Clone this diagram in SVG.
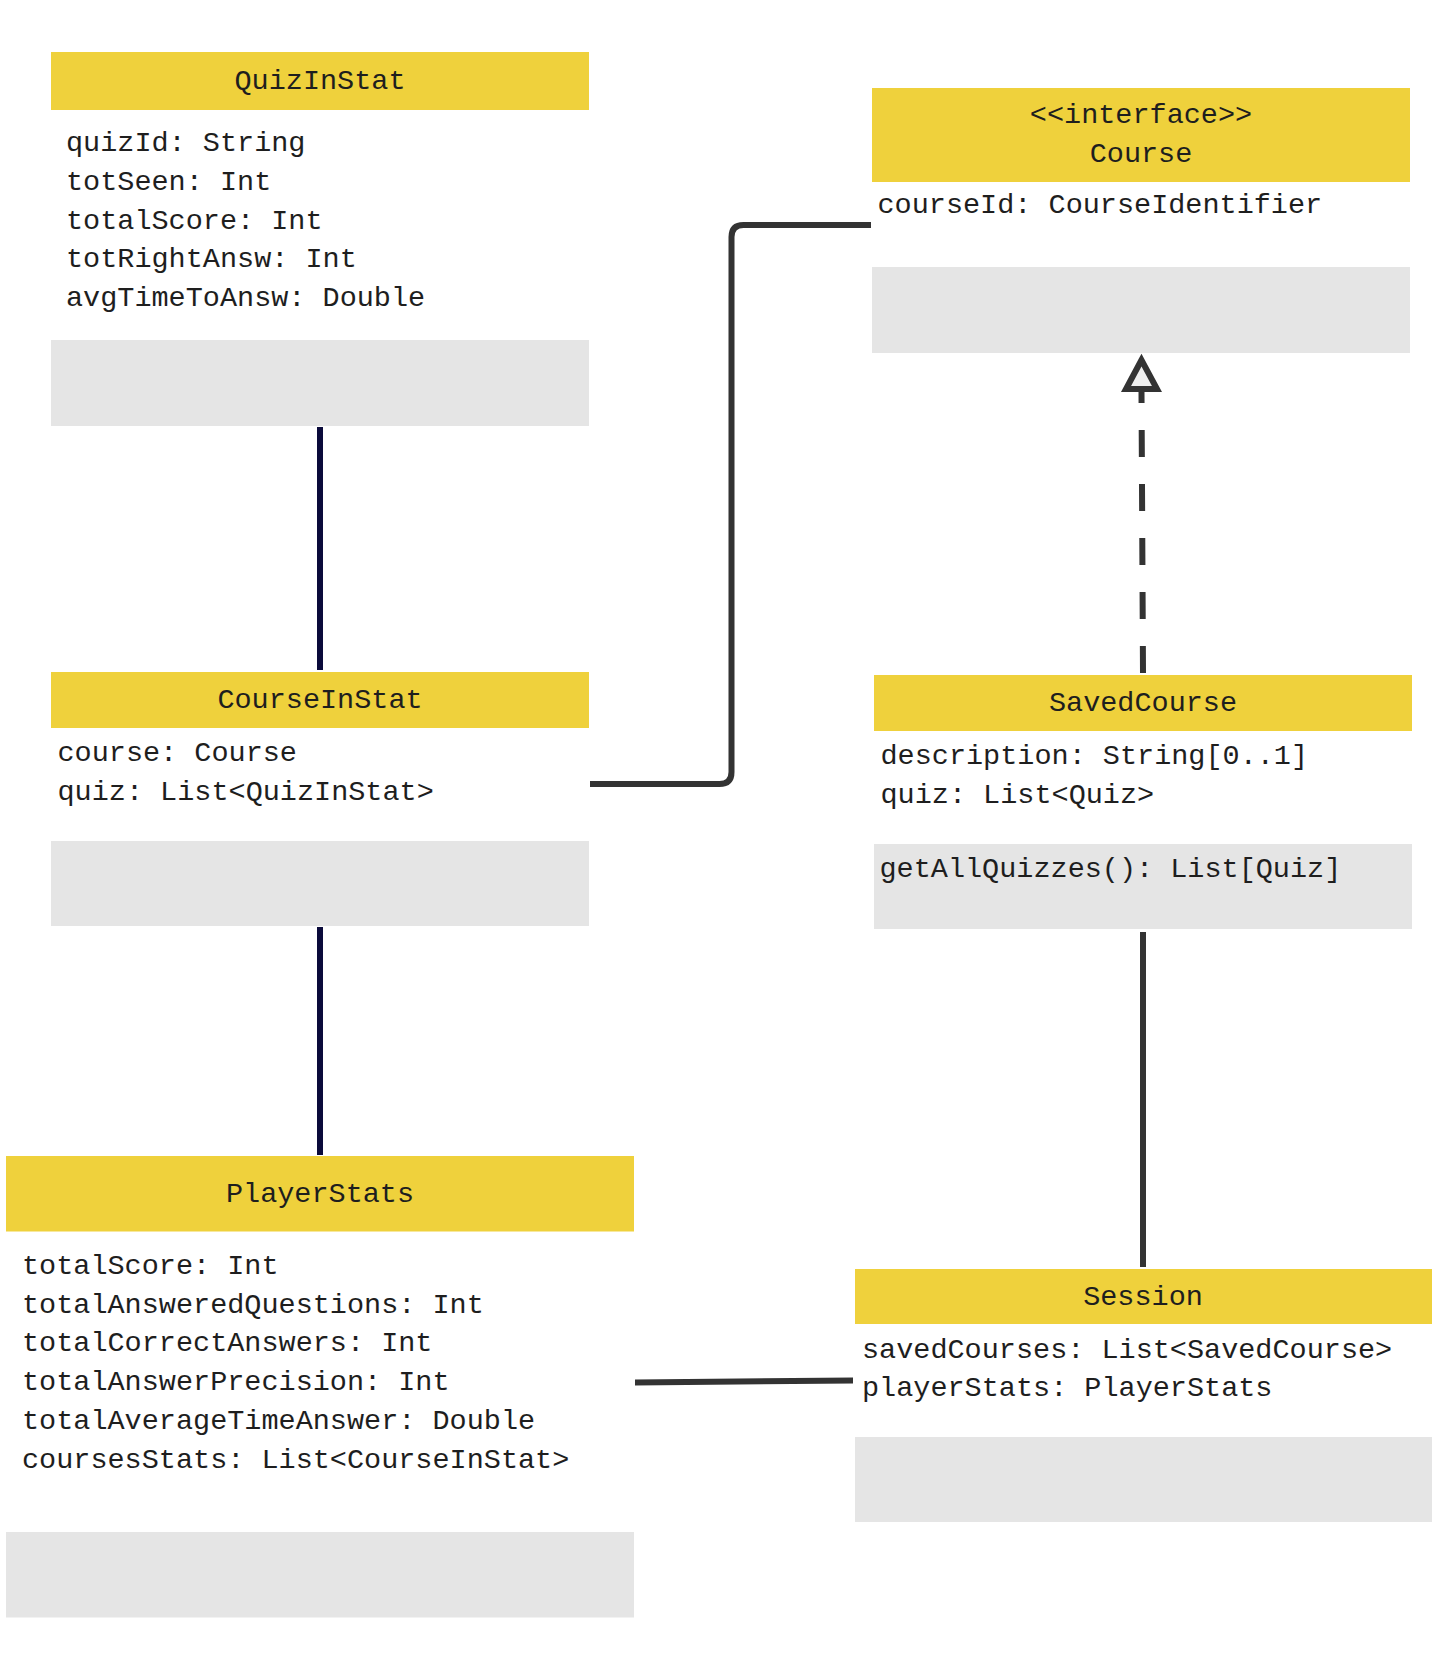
<svg xmlns="http://www.w3.org/2000/svg" width="1440" height="1668" viewBox="0 0 1440 1668">
<style>
.hd{fill:#efd13c}
.mt{fill:#e5e5e5}
text{font-family:"Liberation Mono","DejaVu Sans Mono",monospace;font-size:28.5px;fill:#1e1e1e}
.c{text-anchor:middle}
.ln{fill:none;stroke:#333333;stroke-width:6}
.nv{fill:none;stroke:#0b0b3b;stroke-width:6}
</style>
<rect width="1440" height="1668" fill="#ffffff"/>
<g id="connectors">
<path class="nv" d="M320 427 V670"/>
<path class="nv" d="M320 927 V1155"/>
<path class="ln" d="M590 784 H719.5 Q731.5 784 731.5 772 V237 Q731.5 225 743.5 225 H871"/>
<path class="ln" d="M1143 673 L1141.5 392" stroke-dasharray="27 27"/>
<polygon points="1141.5,360 1126,389 1157,389" fill="#eeeeee" stroke="#333333" stroke-width="6" stroke-linejoin="miter"/>
<path class="ln" d="M1143 932 V1267"/>
<path class="ln" d="M635 1382.5 L853 1380.5"/>
</g>
<g id="QuizInStat">
<rect class="hd" x="51" y="52" width="538" height="58"/>
<text class="c" x="320" y="89">QuizInStat</text>
<text x="66" y="151">quizId: String</text>
<text x="66" y="189.8">totSeen: Int</text>
<text x="66" y="228.6">totalScore: Int</text>
<text x="66" y="267.4">totRightAnsw: Int</text>
<text x="66" y="306.2">avgTimeToAnsw: Double</text>
<rect class="mt" x="51" y="340" width="538" height="86"/>
</g>
<g id="Course">
<rect class="hd" x="872" y="88" width="538" height="94"/>
<text class="c" x="1141" y="123">&lt;&lt;interface&gt;&gt;</text>
<text class="c" x="1141" y="162">Course</text>
<text x="877.5" y="213">courseId: CourseIdentifier</text>
<rect class="mt" x="872" y="267" width="538" height="86"/>
</g>
<g id="CourseInStat">
<rect class="hd" x="51" y="672" width="538" height="56"/>
<text class="c" x="320" y="708">CourseInStat</text>
<text x="57.5" y="760.5">course: Course</text>
<text x="57.5" y="799.5">quiz: List&lt;QuizInStat&gt;</text>
<rect class="mt" x="51" y="841" width="538" height="85"/>
</g>
<g id="SavedCourse">
<rect class="hd" x="874" y="675" width="538" height="56"/>
<text class="c" x="1143" y="710.5">SavedCourse</text>
<text x="880.5" y="764">description: String[0..1]</text>
<text x="880.5" y="802.5">quiz: List&lt;Quiz&gt;</text>
<rect class="mt" x="874" y="844" width="538" height="85"/>
<text x="879.5" y="876.5">getAllQuizzes(): List[Quiz]</text>
</g>
<g id="PlayerStats">
<rect class="hd" x="6" y="1156" width="628" height="75.5"/>
<text class="c" x="320" y="1202">PlayerStats</text>
<text x="22" y="1274">totalScore: Int</text>
<text x="22" y="1312.7">totalAnsweredQuestions: Int</text>
<text x="22" y="1351.4">totalCorrectAnswers: Int</text>
<text x="22" y="1390.1">totalAnswerPrecision: Int</text>
<text x="22" y="1428.8">totalAverageTimeAnswer: Double</text>
<text x="22" y="1467.5">coursesStats: List&lt;CourseInStat&gt;</text>
<rect class="mt" x="6" y="1532" width="628" height="85.5"/>
</g>
<g id="Session">
<rect class="hd" x="855" y="1269" width="577" height="55"/>
<text class="c" x="1143" y="1305">Session</text>
<text x="862" y="1357.5">savedCourses: List&lt;SavedCourse&gt;</text>
<text x="862" y="1395.5">playerStats: PlayerStats</text>
<rect class="mt" x="855" y="1437" width="577" height="85"/>
</g>
</svg>
